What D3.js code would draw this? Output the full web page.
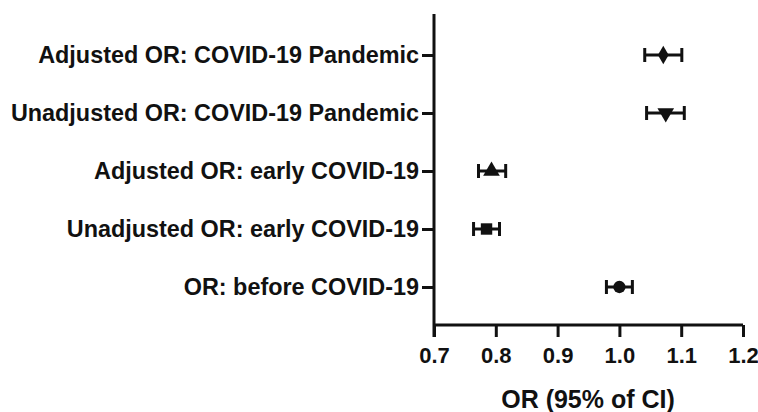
<!DOCTYPE html>
<html lang="en">
<head>
  <meta charset="UTF-8">
  <script src="https://d3js.org/d3.v7.min.js"></script>
  <style>
    body { margin: 0; background: #fff; }
    text { font-family: "Liberation Sans", Arial, sans-serif; font-weight: bold; fill: #111; }
  </style>
</head>
<body>
  <svg id="chart" width="758" height="412"></svg>
  <script>
    // rows from bottom to top
    var labels = ['OR: before COVID-19', 'Unadjusted OR: early COVID-19', 'Adjusted OR: early COVID-19',
      'Unadjusted OR: COVID-19 Pandemic', 'Adjusted OR: COVID-19 Pandemic'];
    var orValues = [1.000, 0.785, 0.793, 1.075, 1.071];
    var ciLow = [0.979, 0.764, 0.772, 1.044, 1.041];
    var ciHigh = [1.021, 0.806, 0.816, 1.105, 1.101];
    var markers = ['circle', 'square', 'triangle', 'triangleDown', 'diamond'];
    var xTicks = [0.7, 0.8, 0.9, 1.0, 1.1, 1.2];

    var rows = labels.map((l, i) => ({ label: l, or: orValues[i], lo: ciLow[i], hi: ciHigh[i], m: markers[i] }));

    var svg = d3.select('#chart');
    var x = d3.scaleLinear().domain([0.7, 1.2]).range([434, 743]);
    var y = d3.scalePoint().domain(labels).range([287, 55]);
    var axisY = 325, axisTop = 14;

    // axes
    var gx = svg.append('g').attr('transform', 'translate(0,' + axisY + ')')
      .call(d3.axisBottom(x).tickValues(xTicks).tickFormat(d3.format('.1f')).tickSize(12).tickPadding(10));
    gx.select('.domain').remove();
    gx.append('line').attr('x1', x(0.7)).attr('x2', x(1.2)).attr('stroke', '#111').attr('stroke-width', 3);
    gx.selectAll('.tick line').attr('stroke', '#111').attr('stroke-width', 3);
    gx.selectAll('.tick text').style('font-size', '22px').attr('fill', '#111');

    var gy = svg.append('g').attr('transform', 'translate(' + x(0.7) + ',0)')
      .call(d3.axisLeft(y).tickSize(12).tickPadding(3));
    gy.select('.domain').remove();
    gy.append('line').attr('y1', axisTop).attr('y2', axisY + 12).attr('stroke', '#111').attr('stroke-width', 3);
    gy.selectAll('.tick line').attr('stroke', '#111').attr('stroke-width', 3);
    gy.selectAll('.tick text').style('font-size', '23.4px').attr('fill', '#111');

    svg.append('text').attr('x', 588).attr('y', 408)
      .attr('text-anchor', 'middle').style('font-size', '25px').text('OR (95% of CI)');

    // error bars
    var eb = svg.append('g').selectAll('g').data(rows).enter().append('g')
      .attr('stroke', '#111').attr('stroke-width', 3);
    eb.append('line').attr('x1', d => x(d.lo)).attr('x2', d => x(d.hi))
      .attr('y1', d => y(d.label)).attr('y2', d => y(d.label));
    eb.append('line').attr('x1', d => x(d.lo)).attr('x2', d => x(d.lo))
      .attr('y1', d => y(d.label) - 7).attr('y2', d => y(d.label) + 7);
    eb.append('line').attr('x1', d => x(d.hi)).attr('x2', d => x(d.hi))
      .attr('y1', d => y(d.label) - 7).attr('y2', d => y(d.label) + 7);

    // markers
    var sym = {
      circle: d3.symbol().type(d3.symbolCircle).size(120),
      square: d3.symbol().type(d3.symbolSquare).size(130),
      triangle: d3.symbol().type(d3.symbolTriangle).size(120),
      triangleDown: d3.symbol().type(d3.symbolTriangle).size(120),
      diamond: d3.symbol().type(d3.symbolDiamond).size(100)
    };
    svg.append('g').selectAll('path').data(rows).enter().append('path')
      .attr('d', d => sym[d.m]())
      .attr('fill', '#111')
      .attr('transform', d => 'translate(' + x(d.or) + ',' + y(d.label) + ')' + (d.m == 'triangleDown' ? ' rotate(180)' : ''));
  </script>
</body>
</html>
